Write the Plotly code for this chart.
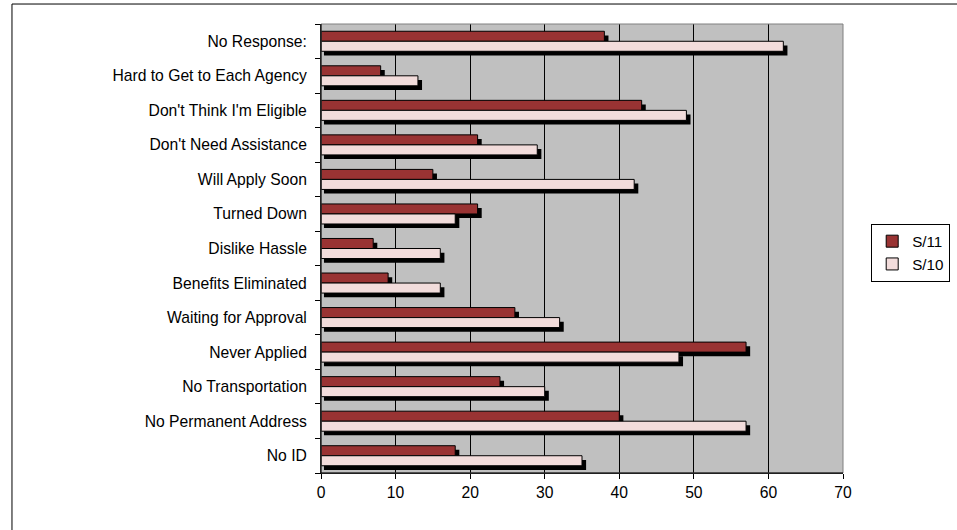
import plotly.graph_objects as go

categories = ["No ID", "No Permanent Address", "No Transportation", "Never Applied",
              "Waiting for Approval", "Benefits Eliminated", "Dislike Hassle", "Turned Down",
              "Will Apply Soon", "Don't Need Assistance", "Don't Think I'm Eligible",
              "Hard to Get to Each Agency", "No Response:"]
s11 = [18, 40, 24, 57, 26, 9, 7, 21, 15, 21, 43, 8, 38]
s10 = [35, 57, 30, 48, 32, 16, 16, 18, 42, 29, 49, 13, 62]
x_ticks = [0, 10, 20, 30, 40, 50, 60, 70]

W = 0.29
SH_Y = 0.12
SH_BASE = 0.4
SH_EXT = 0.15
FS = 15.7

fig = go.Figure()
# shadows
fig.add_trace(go.Bar(y=categories, x=[v + SH_EXT for v in s11], base=SH_BASE, orientation="h",
                     offset=-SH_Y, width=W, marker=dict(color="black", line=dict(width=0)),
                     showlegend=False, hoverinfo="skip"))
fig.add_trace(go.Bar(y=categories, x=[v + SH_EXT for v in s10], base=SH_BASE, orientation="h",
                     offset=-W - SH_Y, width=W, marker=dict(color="black", line=dict(width=0)),
                     showlegend=False, hoverinfo="skip"))
# bars
fig.add_trace(go.Bar(y=categories, x=s11, orientation="h", name="S/11", offset=0, width=W,
                     marker=dict(color="#993333", line=dict(color="black", width=1))))
fig.add_trace(go.Bar(y=categories, x=s10, orientation="h", name="S/10", offset=-W, width=W,
                     marker=dict(color="#F2DCDB", line=dict(color="black", width=1))))

fig.update_layout(
    width=957, height=530,
    barmode="overlay",
    margin=dict(l=321, r=114, t=24, b=57, autoexpand=False),
    paper_bgcolor="white",
    plot_bgcolor="#C0C0C0",
    font=dict(family="Liberation Sans, Arial, sans-serif", size=FS, color="black"),
    legend=dict(x=1.054, y=0.555, xanchor="left", yanchor="top",
                bordercolor="black", borderwidth=1, bgcolor="white",
                font=dict(size=FS - 0.5), tracegroupgap=0, itemwidth=30),
    xaxis=dict(range=[0, 70], tickvals=x_ticks, ticks="outside", ticklen=5, tickcolor="black",
               showline=True, linecolor="black", linewidth=1, mirror=False,
               showgrid=True, gridcolor="black", gridwidth=1, zeroline=False,
               tickfont=dict(size=FS)),
    yaxis=dict(categoryorder="array", categoryarray=categories, tickson="boundaries",
               ticks="outside", ticklen=5, tickcolor="black", ticklabelstandoff=10,
               showline=True, linecolor="black", linewidth=1,
               showgrid=False, zeroline=False, tickfont=dict(size=FS),
               range=[-0.5, len(categories) - 0.5]),
    shapes=[
        dict(type="rect", xref="paper", yref="paper", x0=0, x1=1, y0=0, y1=1,
             line=dict(color="#808080", width=1), layer="above"),
        dict(type="line", xref="paper", yref="paper", x0=0, x1=0, y0=0, y1=1,
             line=dict(color="black", width=1), layer="above"),
        dict(type="line", xref="paper", yref="paper", x0=0, x1=1, y0=0, y1=0,
             line=dict(color="black", width=1), layer="above"),
        dict(type="rect", xref="paper", yref="paper", x0=-0.592, x1=1.25, y0=-0.2, y1=1.0445,
             line=dict(color="black", width=1), layer="above"),
    ],
)

fig.write_html("out.html", config={"displayModeBar": False},
               post_script="document.body.style.margin='0';document.body.style.overflow='hidden';")
